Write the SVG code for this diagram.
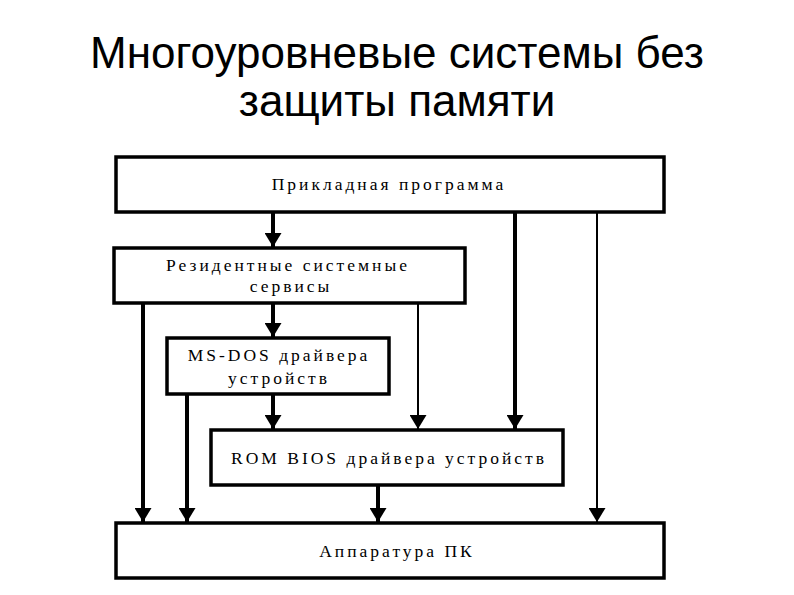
<svg xmlns="http://www.w3.org/2000/svg" width="794" height="595" viewBox="0 0 794 595">
<style>
.title{font-family:"Liberation Sans",Arial,sans-serif;font-size:44px;fill:#000;text-anchor:middle}
.box{fill:#fff;stroke:#000;stroke-width:3.5}
.lbl{font-family:"Liberation Serif","Times New Roman",serif;font-size:17.5px;fill:#000;text-anchor:middle;letter-spacing:3px}
.thick{stroke:#000;stroke-width:4;fill:none}
.thin{stroke:#000;stroke-width:2;fill:none}
</style>
<defs>
<marker id="ah" markerUnits="userSpaceOnUse" markerWidth="17" markerHeight="15" viewBox="0 0 17 15" refX="8.5" refY="14" orient="0">
<path d="M0,0 L17,0 L8.5,14 Z" fill="#000"/>
</marker>
</defs>
<rect width="794" height="595" fill="#fff"/>
<text class="title" x="397" y="68">Многоуровневые системы без</text>
<text class="title" x="397" y="116">защиты памяти</text>
<g id="connectors">
<line class="thick" x1="273" y1="212" x2="273" y2="247" marker-end="url(#ah)"/>
<line class="thick" x1="273" y1="303" x2="273" y2="337" marker-end="url(#ah)"/>
<line class="thick" x1="273" y1="394" x2="273" y2="429" marker-end="url(#ah)"/>
<line class="thick" x1="515" y1="212" x2="515" y2="429" marker-end="url(#ah)"/>
<line class="thin" x1="597" y1="212" x2="597" y2="522" marker-end="url(#ah)"/>
<line class="thick" x1="143" y1="303" x2="143" y2="522" marker-end="url(#ah)"/>
<line class="thin" x1="418" y1="303" x2="418" y2="429" marker-end="url(#ah)"/>
<line class="thick" x1="187" y1="394" x2="187" y2="522" marker-end="url(#ah)"/>
<line class="thick" x1="378" y1="485" x2="378" y2="522" marker-end="url(#ah)"/>
</g>
<g id="n1"><rect class="box" x="116" y="157" width="548" height="55"/><text class="lbl" x="389" y="190">Прикладная программа</text></g>
<g id="n2"><rect class="box" x="114" y="248" width="351" height="55"/><text class="lbl" x="288" y="271">Резидентные системные</text><text class="lbl" x="291" y="292">сервисы</text></g>
<g id="n3"><rect class="box" x="167" y="338" width="222" height="56"/><text class="lbl" x="279" y="361">MS-DOS драйвера</text><text class="lbl" x="279" y="384">устройств</text></g>
<g id="n4"><rect class="box" x="211" y="430" width="352" height="55"/><text class="lbl" x="389" y="464">ROM BIOS драйвера устройств</text></g>
<g id="n5"><rect class="box" x="116" y="523" width="548" height="55"/><text class="lbl" x="397" y="557">Аппаратура ПК</text></g>
</svg>
